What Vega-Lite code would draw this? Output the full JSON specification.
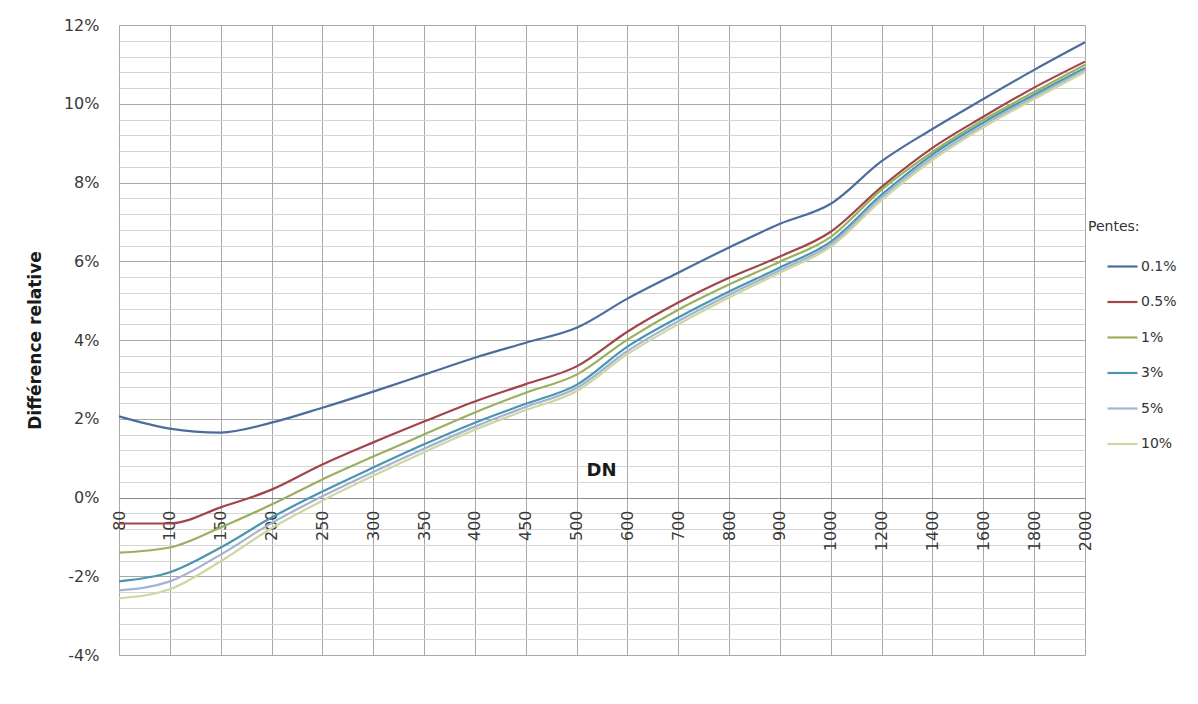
{
  "$schema": "https://vega.github.io/schema/vega-lite/v6.json",
  "width": 966,
  "height": 630,
  "autosize": {"type": "none"},
  "padding": {"left": 119, "top": 25, "right": 113, "bottom": 49},
  "background": "white",
  "config": {
    "view": {"stroke": null},
    "font": "DejaVu Sans"
  },
  "data": {
    "values": [
      {"dn":"80","p":"0.1%","v":2.06},{"dn":"100","p":"0.1%","v":1.75},{"dn":"150","p":"0.1%","v":1.65},{"dn":"200","p":"0.1%","v":1.90},{"dn":"250","p":"0.1%","v":2.28},{"dn":"300","p":"0.1%","v":2.69},{"dn":"350","p":"0.1%","v":3.12},{"dn":"400","p":"0.1%","v":3.55},{"dn":"450","p":"0.1%","v":3.93},{"dn":"500","p":"0.1%","v":4.31},{"dn":"600","p":"0.1%","v":5.05},{"dn":"700","p":"0.1%","v":5.71},{"dn":"800","p":"0.1%","v":6.35},{"dn":"900","p":"0.1%","v":6.95},{"dn":"1000","p":"0.1%","v":7.46},{"dn":"1200","p":"0.1%","v":8.54},{"dn":"1400","p":"0.1%","v":9.36},{"dn":"1600","p":"0.1%","v":10.12},{"dn":"1800","p":"0.1%","v":10.86},{"dn":"2000","p":"0.1%","v":11.56},
      {"dn":"80","p":"0.5%","v":-0.66},{"dn":"100","p":"0.5%","v":-0.66},{"dn":"150","p":"0.5%","v":-0.25},{"dn":"200","p":"0.5%","v":0.20},{"dn":"250","p":"0.5%","v":0.84},{"dn":"300","p":"0.5%","v":1.40},{"dn":"350","p":"0.5%","v":1.93},{"dn":"400","p":"0.5%","v":2.44},{"dn":"450","p":"0.5%","v":2.88},{"dn":"500","p":"0.5%","v":3.33},{"dn":"600","p":"0.5%","v":4.21},{"dn":"700","p":"0.5%","v":4.95},{"dn":"800","p":"0.5%","v":5.58},{"dn":"900","p":"0.5%","v":6.12},{"dn":"1000","p":"0.5%","v":6.75},{"dn":"1200","p":"0.5%","v":7.89},{"dn":"1400","p":"0.5%","v":8.88},{"dn":"1600","p":"0.5%","v":9.67},{"dn":"1800","p":"0.5%","v":10.41},{"dn":"2000","p":"0.5%","v":11.07},
      {"dn":"80","p":"1%","v":-1.40},{"dn":"100","p":"1%","v":-1.27},{"dn":"150","p":"1%","v":-0.76},{"dn":"200","p":"1%","v":-0.18},{"dn":"250","p":"1%","v":0.46},{"dn":"300","p":"1%","v":1.04},{"dn":"350","p":"1%","v":1.60},{"dn":"400","p":"1%","v":2.16},{"dn":"450","p":"1%","v":2.66},{"dn":"500","p":"1%","v":3.12},{"dn":"600","p":"1%","v":4.01},{"dn":"700","p":"1%","v":4.77},{"dn":"800","p":"1%","v":5.41},{"dn":"900","p":"1%","v":5.99},{"dn":"1000","p":"1%","v":6.62},{"dn":"1200","p":"1%","v":7.82},{"dn":"1400","p":"1%","v":8.78},{"dn":"1600","p":"1%","v":9.59},{"dn":"1800","p":"1%","v":10.30},{"dn":"2000","p":"1%","v":10.99},
      {"dn":"80","p":"3%","v":-2.13},{"dn":"100","p":"3%","v":-1.90},{"dn":"150","p":"3%","v":-1.27},{"dn":"200","p":"3%","v":-0.51},{"dn":"250","p":"3%","v":0.15},{"dn":"300","p":"3%","v":0.76},{"dn":"350","p":"3%","v":1.35},{"dn":"400","p":"3%","v":1.90},{"dn":"450","p":"3%","v":2.38},{"dn":"500","p":"3%","v":2.86},{"dn":"600","p":"3%","v":3.83},{"dn":"700","p":"3%","v":4.57},{"dn":"800","p":"3%","v":5.23},{"dn":"900","p":"3%","v":5.84},{"dn":"1000","p":"3%","v":6.50},{"dn":"1200","p":"3%","v":7.69},{"dn":"1400","p":"3%","v":8.71},{"dn":"1600","p":"3%","v":9.52},{"dn":"1800","p":"3%","v":10.23},{"dn":"2000","p":"3%","v":10.91},
      {"dn":"80","p":"5%","v":-2.36},{"dn":"100","p":"5%","v":-2.13},{"dn":"150","p":"5%","v":-1.45},{"dn":"200","p":"5%","v":-0.65},{"dn":"250","p":"5%","v":0.03},{"dn":"300","p":"5%","v":0.65},{"dn":"350","p":"5%","v":1.24},{"dn":"400","p":"5%","v":1.80},{"dn":"450","p":"5%","v":2.30},{"dn":"500","p":"5%","v":2.78},{"dn":"600","p":"5%","v":3.72},{"dn":"700","p":"5%","v":4.48},{"dn":"800","p":"5%","v":5.15},{"dn":"900","p":"5%","v":5.77},{"dn":"1000","p":"5%","v":6.43},{"dn":"1200","p":"5%","v":7.62},{"dn":"1400","p":"5%","v":8.63},{"dn":"1600","p":"5%","v":9.45},{"dn":"1800","p":"5%","v":10.17},{"dn":"2000","p":"5%","v":10.86},
      {"dn":"80","p":"10%","v":-2.56},{"dn":"100","p":"10%","v":-2.33},{"dn":"150","p":"10%","v":-1.62},{"dn":"200","p":"10%","v":-0.78},{"dn":"250","p":"10%","v":-0.08},{"dn":"300","p":"10%","v":0.55},{"dn":"350","p":"10%","v":1.15},{"dn":"400","p":"10%","v":1.72},{"dn":"450","p":"10%","v":2.22},{"dn":"500","p":"10%","v":2.70},{"dn":"600","p":"10%","v":3.64},{"dn":"700","p":"10%","v":4.40},{"dn":"800","p":"10%","v":5.08},{"dn":"900","p":"10%","v":5.71},{"dn":"1000","p":"10%","v":6.37},{"dn":"1200","p":"10%","v":7.55},{"dn":"1400","p":"10%","v":8.57},{"dn":"1600","p":"10%","v":9.40},{"dn":"1800","p":"10%","v":10.12},{"dn":"2000","p":"10%","v":10.81}
    ]
  },
  "mark": {"type": "line", "interpolate": "monotone", "strokeWidth": 2.2},
  "encoding": {
    "x": {
      "field": "dn",
      "type": "ordinal",
      "scale": {"type": "point", "padding": 0, "domain": ["80","100","150","200","250","300","350","400","450","500","600","700","800","900","1000","1200","1400","1600","1800","2000"]},
      "axis": {
        "orient": "bottom",
        "offset": -157,
        "title": "DN",
        "titleFont": "DejaVu Sans",
        "titleFontSize": 18,
        "titleFontWeight": "bold",
        "titleColor": "#1a1a1a",
        "titleX": 482,
        "titleY": -23,
        "titleAlign": "center",
        "titleBaseline": "alphabetic",
        "titleAngle": 0,
        "labelAngle": 270,
        "labelAlign": "right",
        "labelBaseline": "middle",
        "labelPadding": 12,
        "labelFont": "DejaVu Sans",
        "labelFontSize": 16,
        "labelColor": "#3a3a3a",
        "labelOverlap": false,
        "labelFlush": false,
        "ticks": false,
        "domain": true,
        "domainColor": "#8a8a8a",
        "domainWidth": 1,
        "grid": true,
        "gridColor": "#a8a8a8",
        "gridWidth": 1
      }
    },
    "y": {
      "field": "v",
      "type": "quantitative",
      "scale": {"domain": [-4, 12], "nice": false, "zero": false},
      "axis": {
        "values": [-4,-3.6,-3.2,-2.8,-2.4,-2,-1.6,-1.2,-0.8,-0.4,0,0.4,0.8,1.2,1.6,2,2.4,2.8,3.2,3.6,4,4.4,4.8,5.2,5.6,6,6.4,6.8,7.2,7.6,8,8.4,8.8,9.2,9.6,10,10.4,10.8,11.2,11.6,12],
        "labelExpr": "datum.value % 2 === 0 ? datum.value + '%' : ''",
        "title": "Différence relative",
        "titleFont": "DejaVu Sans",
        "titleFontSize": 17,
        "titleFontWeight": "bold",
        "titleColor": "#1a1a1a",
        "titleX": -84,
        "titleY": 315,
        "titleAngle": 270,
        "titleAlign": "center",
        "titleBaseline": "middle",
        "labelFont": "DejaVu Sans",
        "labelFontSize": 16,
        "labelColor": "#3a3a3a",
        "labelPadding": 20,
        "labelOverlap": false,
        "labelFlush": false,
        "ticks": false,
        "domain": false,
        "grid": true,
        "gridColor": {"condition": {"test": "datum.value % 2 === 0", "value": "#a8a8a8"}, "value": "#d4d4d4"},
        "gridWidth": 1
      }
    },
    "color": {
      "field": "p",
      "type": "nominal",
      "scale": {
        "domain": ["0.1%","0.5%","1%","3%","5%","10%"],
        "range": ["#4c6c9c","#a0454a","#9bb05e","#4a96ae","#a3b3d6","#cdd7a0"]
      },
      "legend": {
        "orient": "none",
        "legendX": 969,
        "legendY": 195,
        "title": "Pentes:",
        "titleFont": "DejaVu Sans",
        "titleFontSize": 14,
        "titleFontWeight": "normal",
        "titleColor": "#333333",
        "titlePadding": 16,
        "labelFont": "DejaVu Sans",
        "labelFontSize": 14,
        "labelColor": "#333333",
        "labelOffset": 2,
        "symbolType": "stroke",
        "symbolSize": 900,
        "symbolStrokeWidth": 2.2,
        "symbolOffset": 18,
        "rowPadding": 11.5,
        "padding": 0
      }
    }
  }
}
